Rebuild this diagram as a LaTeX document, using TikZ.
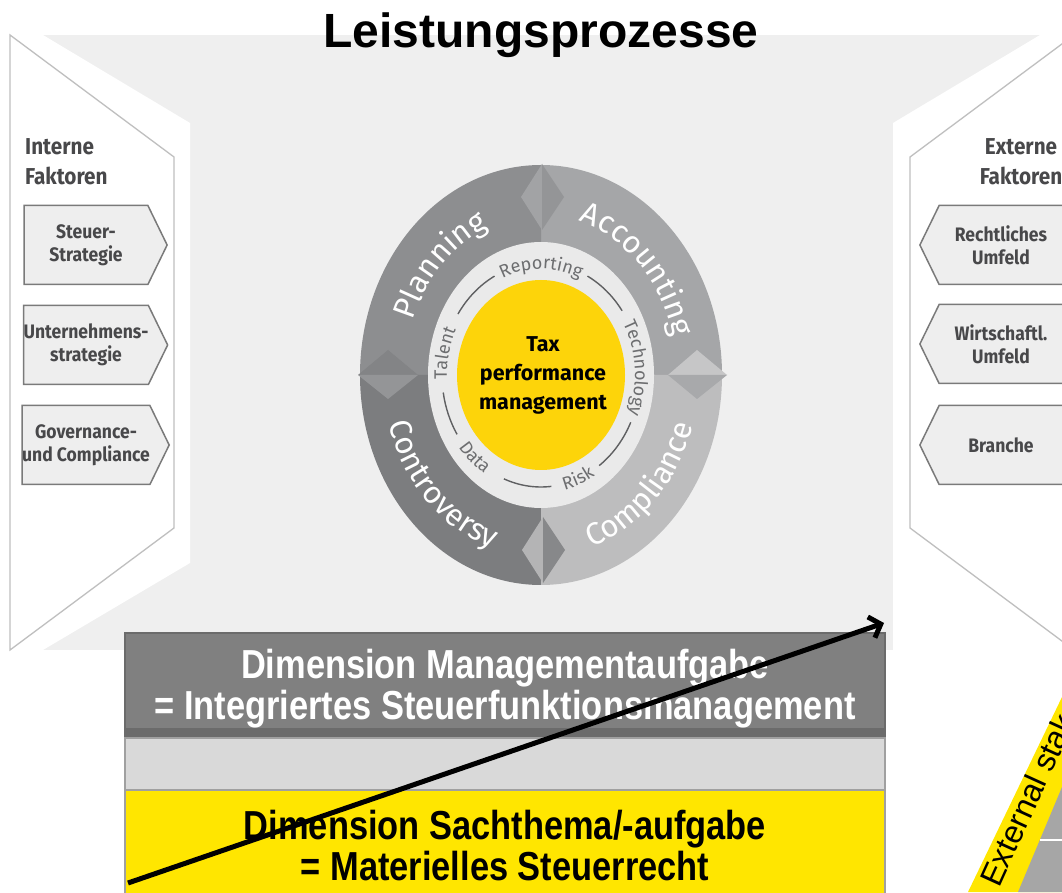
\documentclass[tikz,border=0pt]{standalone}
\usepackage{fontspec}
\setmainfont{Liberation Sans}
\newfontfamily\eyfont{Fira Sans}
\newfontfamily\eycond{Fira Sans}[FakeStretch=0.9]
\newfontfamily\narrowfont{Liberation Sans}[FakeStretch=0.85]
\usetikzlibrary{shapes.symbols,decorations.text,arrows.meta}

\definecolor{panelbg}{HTML}{EFEFEF}
\definecolor{panelline}{HTML}{BFBFBF}
\definecolor{boxfill}{HTML}{EEEEEE}
\definecolor{boxline}{HTML}{7A7A7A}
\definecolor{boxtext}{HTML}{48484A}
\definecolor{planning}{HTML}{8D8E90}
\definecolor{accounting}{HTML}{A5A6A8}
\definecolor{compliance}{HTML}{BDBDBE}
\definecolor{controversy}{HTML}{7C7D7F}
\definecolor{topleft}{HTML}{A2A3A5}
\definecolor{topright}{HTML}{949597}
\definecolor{rightup}{HTML}{C6C6C7}
\definecolor{rightdown}{HTML}{A8A9AB}
\definecolor{bottomleft}{HTML}{B4B4B5}
\definecolor{bottomright}{HTML}{87888A}
\definecolor{leftup}{HTML}{838486}
\definecolor{leftdown}{HTML}{949597}
\definecolor{innerring}{HTML}{EAEAEA}
\definecolor{innertext}{HTML}{6D6E70}
\definecolor{ringgray}{HTML}{5F6062}
\definecolor{taxyellow}{RGB}{253,212,10}
\definecolor{dimyellow}{HTML}{FFE600}
\definecolor{dimgray}{HTML}{808080}
\definecolor{dimline}{HTML}{6B6B6B}
\definecolor{dimlight}{HTML}{D9D9D9}
\definecolor{lightline}{HTML}{A0A0A0}
\definecolor{stakegray}{HTML}{A6A6A6}

\begin{document}
\begin{tikzpicture}[x=1pt, y=1pt,
  signalbox/.style={signal, draw=boxline, fill=boxfill, line width=1.5pt,
    minimum width=143pt, minimum height=79pt, inner sep=0pt, signal pointer angle=128,
    font=\eycond\bfseries\fontsize{19.5}{23}\selectfont, text=boxtext, align=center},
  leftbox/.style={signalbox, signal to=east},
  rightbox/.style={signalbox, signal to=west},
  factorhead/.style={font=\eycond\bfseries\fontsize{23}{30}\selectfont, text=boxtext, inner sep=0pt},
  ringline/.style={draw=ringgray, line width=1.4pt},
  outerword/.style={decorate, decoration={text along path, text align=center,
    text={|\eyfont\fontsize{31}{31}\selectfont\color{white}|#1}}},
  innerword/.style={decorate, decoration={text along path, text align=center,
    text={|\eyfont\fontsize{18}{18}\selectfont\color{innertext}|#1}}},
  dimbox/.style={rectangle, minimum width=760pt, draw=dimline, line width=2pt,
    font=\narrowfont\bfseries\fontsize{40.5}{41}\selectfont, align=center},
  trend/.style={line width=5pt, -{Straight Barb[length=10pt, width=22pt]}}
]
\useasboundingbox (0,0) rectangle (1062,892);

% background and side panels
\fill[panelbg] (43,242) rectangle (1040,857);
\fill[white] (0,857) -- (43,857) -- (190,769) -- (190,329) -- (43,242) -- (0,242) -- cycle;
\fill[white] (893,769) -- (1040,857) -- (1062,857) -- (1062,242) -- (893,242) -- cycle;
\draw[panelline, line width=1.3pt] (10,857) -- (174,735) -- (174,364) -- (10,242) -- cycle;
\draw[panelline, line width=1.3pt] (1074,857) -- (910,735) -- (910,364) -- (1074,242);

\node[anchor=base, font=\bfseries\fontsize{48}{48}\selectfont] (title) at (541,844) {Leistungsprozesse};

% internal factors
\node[factorhead, anchor=west, align=left] (inthead) at (25,730) {Interne\\Faktoren};
\node[leftbox] (strategy) at (86,647) {Steuer-\\Strategie};
\node[leftbox] (corporate) at (86,547) {Unternehmens-\\strategie};
\node[leftbox] (governance) at (86,447) {Governance-\\und Compliance};

% external factors
\node[factorhead, align=center] (exthead) at (1021,730) {Externe\\Faktoren};
\node[rightbox] (legal) at (1001,647) {Rechtliches\\Umfeld};
\node[rightbox] (economic) at (1001,548) {Wirtschaftl.\\Umfeld};
\node[rightbox] (industry) at (1001,447) {Branche};

% wheel
\begin{scope}[shift={(541,517)}]
\coordinate (hub) at (0,0);
\fill[accounting] (hub) -- (0:181pt and 210pt) arc[start angle=0, end angle=90, x radius=181pt, y radius=210pt] -- cycle;
\fill[planning] (hub) -- (90:181pt and 210pt) arc[start angle=90, end angle=180, x radius=181pt, y radius=210pt] -- cycle;
\fill[controversy] (hub) -- (180:181pt and 210pt) arc[start angle=180, end angle=270, x radius=181pt, y radius=210pt] -- cycle;
\fill[compliance] (hub) -- (270:181pt and 210pt) arc[start angle=270, end angle=360, x radius=181pt, y radius=210pt] -- cycle;
% diamonds
\fill[topleft] (1,211) -- (-20,178) -- (1,145) -- cycle;
\fill[topright] (1,211) -- (23,178) -- (1,145) -- cycle;
\fill[rightup] (127,0) -- (156,25) -- (186,0) -- cycle;
\fill[rightdown] (127,0) -- (156,-24) -- (186,0) -- cycle;
\fill[bottomleft] (2,-142) -- (-19,-175) -- (2,-208) -- cycle;
\fill[bottomright] (2,-142) -- (24,-175) -- (2,-208) -- cycle;
\fill[leftup] (-183,0) -- (-153,25) -- (-123,0) -- cycle;
\fill[leftdown] (-183,0) -- (-153,-24) -- (-123,0) -- cycle;
% phase words
\path[outerword=Planning] (180:136pt and 160pt) arc[start angle=180, end angle=90, x radius=136pt, y radius=160pt];
\path[outerword=Accounting] (90:136pt and 160pt) arc[start angle=90, end angle=0, x radius=136pt, y radius=160pt];
\path[outerword=Controversy] (180:158pt and 182pt) arc[start angle=180, end angle=270, x radius=158pt, y radius=182pt];
\path[outerword=Compliance] (270:158pt and 182pt) arc[start angle=270, end angle=360, x radius=158pt, y radius=182pt];
% inner ring
\fill[innerring] (hub) ellipse[x radius=113pt, y radius=133pt];
\draw[ringline] (62:99pt and 112pt) arc[start angle=62, end angle=35, x radius=99pt, y radius=112pt];
\draw[ringline] (-25:99pt and 112pt) arc[start angle=-25, end angle=-54, x radius=99pt, y radius=112pt];
\draw[ringline] (248:99pt and 112pt) arc[start angle=248, end angle=276, x radius=99pt, y radius=112pt];
\draw[ringline] (189:99pt and 112pt) arc[start angle=189, end angle=212, x radius=99pt, y radius=112pt];
\draw[ringline] (118:99pt and 112pt) arc[start angle=118, end angle=147, x radius=99pt, y radius=112pt];
\path[innerword=Reporting] (135:94pt and 106pt) arc[start angle=135, end angle=45, x radius=94pt, y radius=106pt];
\path[innerword=Technology] (49:94pt and 106pt) arc[start angle=49, end angle=-41, x radius=94pt, y radius=106pt];
\path[innerword=Talent] (213:94pt and 106pt) arc[start angle=213, end angle=123, x radius=94pt, y radius=106pt];
\path[innerword=Data] (184:104pt and 118pt) arc[start angle=184, end angle=274, x radius=104pt, y radius=118pt];
\path[innerword=Risk] (246:104pt and 118pt) arc[start angle=246, end angle=336, x radius=104pt, y radius=118pt];
\fill[taxyellow] (hub) ellipse[x radius=84pt, y radius=95pt];
\node[font=\eyfont\bfseries\fontsize{21.5}{29}\selectfont, align=center] (taxcenter) at (2,0) {Tax\\performance\\management};
\end{scope}

% dimensions
\node[dimbox, fill=dimgray, minimum height=112pt, text=white] (mgmtbox) at (505,203) {Dimension Managementaufgabe\\= Integriertes Steuerfunktionsmanagement};
\fill[dimline] (125,155) rectangle (885,164);
\node[dimbox, fill=dimlight, draw=lightline, minimum height=53pt, anchor=north] (middlebox) at (505,155) {};
\node[dimbox, fill=dimyellow, draw=lightline, minimum height=112pt] (subjectbox) at (505,46) {Dimension Sachthema/-aufgabe\\= Materielles Steuerrecht};

\coordinate (trendstart) at (128,9);
\coordinate (trendend) at (884,269);
\draw[trend] (trendstart) -- (trendend);

% stakeholder corner
\begin{scope}
\clip (893,0) rectangle (1062,260);
\fill[dimyellow] (968,0) -- (1062,195) -- (1062,0) -- cycle;
\fill[stakegray] (1018,0) -- (1062,105) -- (1062,0) -- cycle;
\draw[white, line width=1.5pt] (1040,52) -- (1062,52);
\node[anchor=base west, inner sep=0pt, rotate=65.5, font=\fontsize{32}{32}\selectfont] (stakeholders) at (999,3) {External stake};
\end{scope}
\end{tikzpicture}
\end{document}
